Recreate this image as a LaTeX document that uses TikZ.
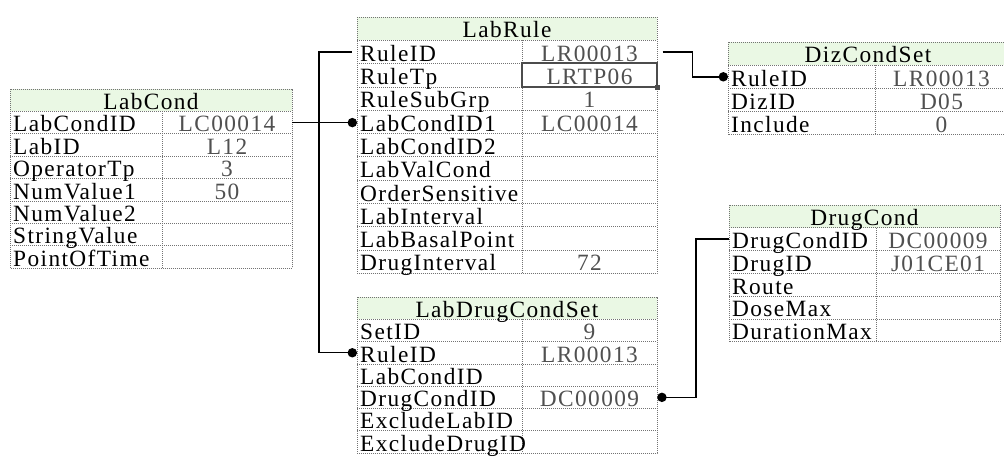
\documentclass[tikz,border=0pt]{standalone}
\usepackage{fontspec}
\setmainfont{Liberation Serif}[LetterSpace=6]
\usetikzlibrary{arrows.meta}
\definecolor{hdrgreen}{RGB}{234,248,228}
\definecolor{gridgray}{RGB}{115,115,115}
\definecolor{valgray}{RGB}{80,80,80}
\newcommand\tabfont{\fontsize{17.5}{17.5}\selectfont}
\tikzset{
  tabgrid/.style={draw=gridgray, line width=0.6pt, dash pattern=on 0.75pt off 0.75pt},
  hdrfill/.style={fill=hdrgreen},
  hdrtext/.style={font=\tabfont, text=black, inner sep=0pt, text height=14pt, text depth=0pt},
  lbl/.style={font=\tabfont, text=black, anchor=west, inner xsep=2.2pt, inner ysep=0pt, text height=14pt, text depth=0pt},
  val/.style={font=\tabfont, text=valgray, inner sep=0pt, text height=14pt, text depth=0pt},
  link/.style={draw=black, line width=1.1pt},
  dotend/.style={-{Circle[length=7pt]}},
  selcell/.style={draw=black!70, line width=1.6pt},
}
% #1 name, #2 x0, #3 x1, #4 x2, #5 top, #6 row height, #7 rows, #8 header, #9 rows list
\newcommand\dbtable[9]{%
  \fill[hdrfill] (#2,#5) rectangle (#4,{#5+#6});
  \draw[tabgrid] (#2,#5) rectangle (#4,{#5+(#7+1)*#6});
  \foreach \k in {1,...,#7} {\draw[tabgrid] (#2,{#5+\k*#6}) -- (#4,{#5+\k*#6});}
  \draw[tabgrid] (#3,{#5+#6}) -- (#3,{#5+(#7+1)*#6});
  \node[hdrtext] (#1-h) at ({(#2+#4)/2},{#5+#6/2}) {#8};
  \foreach [count=\i] \l/\v in {#9} {
    \node[lbl] (#1-\i-l) at (#2,{#5+(\i+0.5)*#6}) {\l};
    \node[val, minimum width={(#4-#3)*0.75pt}, minimum height={#6*0.75pt}] (#1-\i-v) at ({(#3+#4)/2},{#5+(\i+0.5)*#6}) {\v};
  }
}
\begin{document}
\begin{tikzpicture}[x=0.75pt,y=-0.75pt]
\useasboundingbox (0,0) rectangle (1004,461);
\fill[white] (0,0) rectangle (1004,461);

\dbtable{labcond}{10}{162}{292}{89}{22.4}{7}{LabCond}{LabCondID/LC00014,LabID/L12,OperatorTp/3,NumValue1/50,NumValue2/{},StringValue/{},PointOfTime/{}}

\dbtable{labrule}{357}{522}{657}{17}{23.3}{10}{LabRule}{RuleID/LR00013,RuleTp/LRTP06,RuleSubGrp/1,LabCondID1/LC00014,LabCondID2/{},LabValCond/{},OrderSensitive/{},LabInterval/{},LabBasalPoint/{},DrugInterval/72}

\dbtable{labdrug}{357}{522}{657}{297}{22.3}{6}{LabDrugCondSet}{SetID/9,RuleID/LR00013,LabCondID/{},DrugCondID/DC00009,ExcludeLabID/{},ExcludeDrugID/{}}

\dbtable{diz}{728}{875}{1008}{42}{23.2}{3}{DizCondSet}{RuleID/LR00013,DizID/D05,Include/0}

\dbtable{drug}{729}{876}{1000}{205}{22.8}{5}{DrugCond}{DrugCondID/DC00009,DrugID/J01CE01,Route/{},DoseMax/{},DurationMax/{}}

% selected cell
\draw[selcell] (labrule-2-v.north west) rectangle (labrule-2-v.south east);
\fill[black!70] ([xshift=-2pt,yshift=-2pt]labrule-2-v.south east) rectangle ++(4pt,4pt);

% connectors
\draw[link, dotend] (labcond-1-v.east) -- (labcond-1-v.east -| labrule-4-l.west);
\draw[link, dotend, shorten <=4pt] (labrule-1-l.west) -- ++(-38,0) |- (labdrug-2-l.west);
\draw[link, dotend, shorten <=4pt] (labrule-1-v.east) -- ++(35,0) |- (diz-1-l.west);
\draw[link, dotend] (drug-1-l.west) -- ++(-33,0) |- (labdrug-4-v.east);
\end{tikzpicture}
\end{document}
